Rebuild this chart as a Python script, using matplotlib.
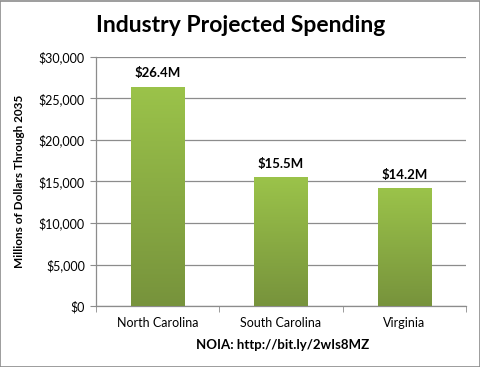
import numpy as np
import matplotlib.pyplot as plt
from matplotlib.colors import LinearSegmentedColormap
from matplotlib.patches import Rectangle

states = ["North Carolina", "South Carolina", "Virginia"]
spending = [26400, 15500, 14200]
labels = ["$26.4M", "$15.5M", "$14.2M"]
yticks = [0, 5000, 10000, 15000, 20000, 25000, 30000]

plt.rcParams['font.family'] = ['Lato', 'DejaVu Sans']

fig = plt.figure(figsize=(4.81, 3.67), dpi=100)
ax = fig.add_axes([0.1996, 0.1662, 0.769, 0.6785])

x = np.arange(len(states))
bars = ax.bar(x, spending, width=0.43, color='none', zorder=3)

# gradient fill clipped to each bar
cmap = LinearSegmentedColormap.from_list('g', ['#77933c', '#9bc34a'])
grad = np.linspace(0, 1, 256).reshape(-1, 1)
for b in bars:
    x0, y0 = b.get_x(), b.get_y()
    w, h = b.get_width(), b.get_height()
    im = ax.imshow(grad, cmap=cmap, origin='lower', aspect='auto',
                   extent=[x0, x0 + w, y0, y0 + h], zorder=3)
    im.set_clip_path(b)

for xi, v, lab in zip(x, spending, labels):
    ax.text(xi, v + 900, lab, ha='center', va='bottom', fontsize=9.5,
            fontweight='bold', color='black')

ax.set_xlim(-0.5, 2.5)
ax.set_ylim(0, 30000)
ax.set_yticks(yticks)
ax.set_yticklabels(["${:,}".format(t) for t in yticks], fontsize=9)
ax.grid(axis='y', color='#8c8c8c', linewidth=0.9, zorder=0)
ax.set_axisbelow(True)

ax.set_xticks(x)
ax.set_xticklabels(states, fontsize=9)
ax.set_xticks([-0.5, 0.5, 1.5, 2.5], minor=True)
ax.tick_params(axis='x', which='major', length=0, pad=8)
ax.tick_params(axis='x', which='minor', length=4, color='#8c8c8c')
ax.tick_params(axis='y', length=4, color='#8c8c8c', pad=4)

for s in ['top', 'right']:
    ax.spines[s].set_visible(False)
for s in ['left', 'bottom']:
    ax.spines[s].set_color('#8c8c8c')
    ax.spines[s].set_linewidth(0.9)

ax.set_ylabel('Millions of Dollars Through 2035', fontsize=8.5,
              fontweight='bold', labelpad=10)

fig.text(0.5, 0.93, 'Industry Projected Spending', ha='center', va='center',
         fontsize=16.5, fontweight='bold')
fig.text(0.587, 0.06, 'NOIA: http://bit.ly/2wIs8MZ', ha='center',
         va='center', fontsize=9.5, fontweight='bold')

fig.patches.append(Rectangle((0.001, 0.001), 0.997, 0.996, transform=fig.transFigure,
                             fill=False, edgecolor='#8c8c8c', linewidth=1.2))

fig.savefig('out.png', dpi=100)
